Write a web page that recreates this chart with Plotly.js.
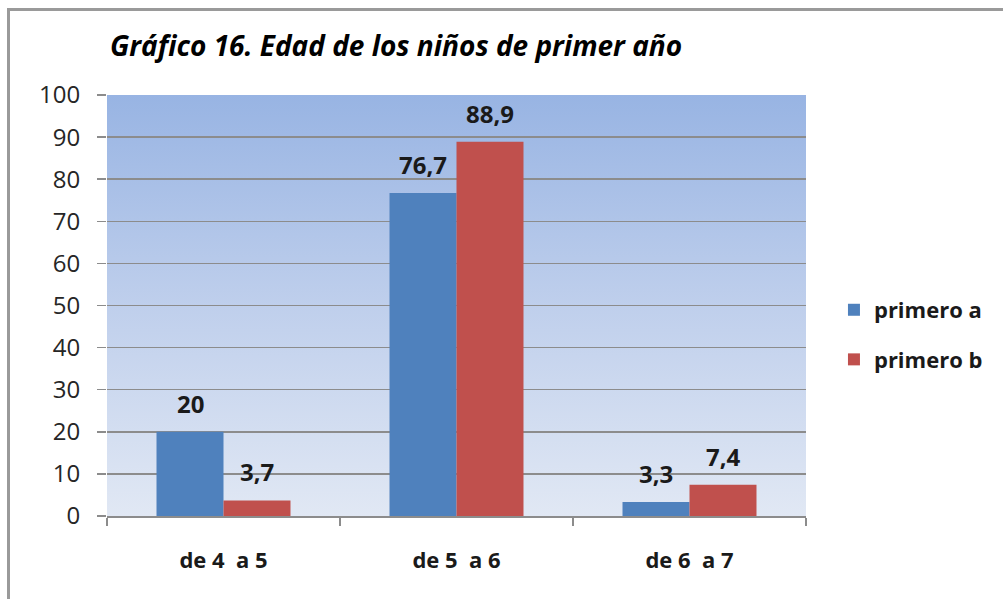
<!DOCTYPE html>
<html>
<head>
<meta charset="utf-8">
<script src="https://cdn.plot.ly/plotly-3.0.1.min.js"></script>
<style>
html,body{margin:0;padding:0;background:#fff;}
#wrap{position:relative;width:1003px;height:599px;overflow:hidden;}
#chart{position:absolute;left:0;top:0;width:1003px;height:599px;}
#frame{position:absolute;left:7px;top:8px;width:1100px;height:700px;border-left:3px solid #9a9a9a;border-top:3px solid #9a9a9a;pointer-events:none;}
</style>
</head>
<body>
<div id="wrap"><div id="chart"></div><div id="frame"></div></div>
<script>
const categories = ["de 4  a 5", "de 5  a 6", "de 6  a 7"];
const seriesNames = ["primero a", "primero b"];
const primeroA = [20, 76.7, 3.3];
const primeroB = [3.7, 88.9, 7.4];
const yTicks = [0, 10, 20, 30, 40, 50, 60, 70, 80, 90, 100];

const FONT = "'Open Sans', 'Noto Sans', sans-serif";
const colors = ["#4f81bd", "#c0504d"];
const allSeries = [primeroA, primeroB];

const fmt = v => String(v).replace(".", ",");

const traces = allSeries.map((vals, i) => ({
  type: "bar",
  name: seriesNames[i],
  x: categories,
  y: vals,
  marker: {color: colors[i]},
  legendgroup: "g" + i,
  hoverinfo: "x+y"
}));

const annotations = [];
allSeries.forEach((vals, i) => {
  vals.forEach((v, j) => {
    annotations.push({
      x: categories[j], y: v, xref: "x", yref: "y",
      text: "<b>" + fmt(v) + "</b>",
      showarrow: false, yanchor: "bottom",
      xshift: i === 0 ? -33.5 : 33.5, yshift: 10,
      font: {family: FONT, size: 24, color: "#1a1a1a"}
    });
  });
});

const grad = "data:image/svg+xml;utf8," + encodeURIComponent(
  "<svg xmlns='http://www.w3.org/2000/svg' width='10' height='100' preserveAspectRatio='none'>" +
  "<defs><linearGradient id='g' x1='0' y1='0' x2='0' y2='1'>" +
  "<stop offset='0' stop-color='#98b4e3'/><stop offset='0.5' stop-color='#bfcfec'/><stop offset='1' stop-color='#e1e8f4'/>" +
  "</linearGradient></defs><rect width='10' height='100' fill='url(#g)'/></svg>");

const layout = {
  width: 1003, height: 599,
  margin: {l: 107, r: 197, t: 95, b: 83},
  paper_bgcolor: "rgba(0,0,0,0)",
  plot_bgcolor: "rgba(0,0,0,0)",
  barmode: "group",
  bargap: 0.425,
  bargroupgap: 0,
  title: {
    text: "<b><i>Gráfico 16. Edad de los niños de primer año</i></b>",
    font: {family: FONT, size: 28, color: "#000"},
    xref: "container", x: 110/1003, xanchor: "left",
    yref: "container", y: 1 - 46/599, yanchor: "middle"
  },
  images: [{
    source: grad, xref: "paper", yref: "paper",
    x: 0, y: 1, sizex: 1, sizey: 1, xanchor: "left", yanchor: "top",
    sizing: "stretch", layer: "below"
  }],
  xaxis: {
    type: "category",
    tickson: "boundaries",
    ticks: "outside", ticklen: 8, tickwidth: 1.5, tickcolor: "#8c8c8c",
    showline: true, linecolor: "#8c8c8c", linewidth: 1.5,
    showgrid: false,
    ticklabelstandoff: 24,
    tickfont: {family: FONT, size: 22, color: "#1a1a1a", weight: "bold"},
    fixedrange: true
  },
  yaxis: {
    range: [0, 100],
    tickvals: yTicks,
    ticktext: yTicks.map(String),
    ticks: "outside", ticklen: 9, tickwidth: 1.5, tickcolor: "#8c8c8c",
    showline: false,
    showgrid: true, gridcolor: "#8c8c8c", gridwidth: 1.5,
    zeroline: false,
    ticklabelstandoff: 12,
    tickfont: {family: FONT, size: 24, color: "#262626"},
    fixedrange: true
  },
  legend: {
    x: 1.04, xanchor: "left", y: 0.43, yanchor: "middle",
    font: {family: FONT, size: 22, color: "#1a1a1a", weight: "bold"},
    traceorder: "grouped", tracegroupgap: 18,
    itemwidth: 30, bgcolor: "rgba(0,0,0,0)"
  },
  annotations: annotations,
  showlegend: true
};

Plotly.newPlot("chart", traces, layout, {displayModeBar: false, staticPlot: true});
</script>
</body>
</html>
